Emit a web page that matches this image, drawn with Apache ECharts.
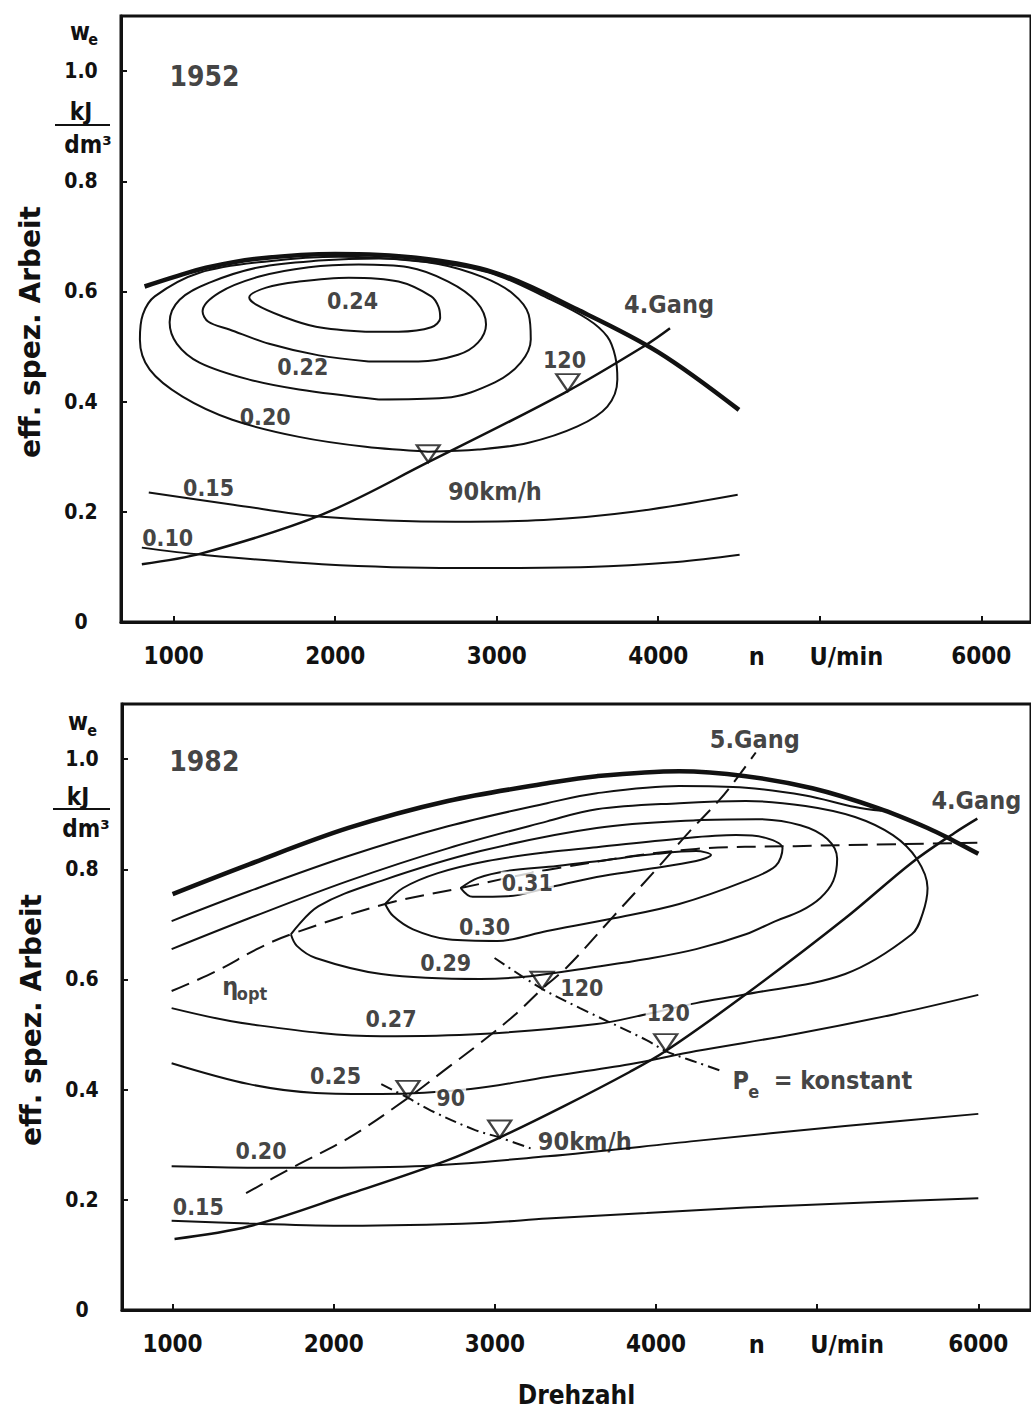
<!DOCTYPE html>
<html><head><meta charset="utf-8">
<script src="https://cdn.jsdelivr.net/npm/echarts@6/dist/echarts.min.js"></script>
<style>html,body{margin:0;padding:0;background:#fff}#c{width:1031px;height:1410px}</style>
</head><body><div id="c"></div>
<script>
// ---------- DATA (n in U/min, w_e in kJ/dm3) ----------
const xTicks = [1000, 2000, 3000, 4000, 5000, 6000];
const xTickLabels = [1000, 2000, 3000, 4000, 6000];
const yTicks = [0, 0.2, 0.4, 0.6, 0.8, 1.0];
const axisWords = ['n', 'U/min'];
const axisWordPos1952 = [4610, 5165];
const axisWordPos1982 = [4625, 5186];

// 1952
const fullLoad1952 = [[820,0.609],[1000,0.626],[1200,0.643],[1500,0.659],[2000,0.668],[2500,0.661],[3000,0.633],[3500,0.567],[4000,0.49],[4500,0.385]];
const be024_1952 = [[2188,0.527],[2392,0.527],[2595,0.535],[2650,0.552],[2640,0.572],[2595,0.591],[2392,0.618],[2084,0.625],[1776,0.618],[1573,0.607],[1468,0.589],[1511,0.576],[1671,0.555],[1881,0.536],[2188,0.527]];
const be023_1952 = [[2207,0.473],[2515,0.473],[2761,0.485],[2884,0.507],[2934,0.540],[2872,0.582],[2700,0.618],[2453,0.644],[2145,0.649],[1837,0.644],[1530,0.627],[1283,0.598],[1179,0.564],[1215,0.545],[1345,0.531],[1591,0.505],[1899,0.484],[2207,0.473]];
const be022_1952 = [[2269,0.404],[2681,0.407],[2989,0.435],[3149,0.471],[3211,0.513],[3198,0.558],[3100,0.596],[2915,0.626],[2638,0.650],[2269,0.660],[1899,0.656],[1530,0.644],[1222,0.616],[1037,0.585],[975,0.544],[1020,0.505],[1160,0.471],[1468,0.440],[1776,0.422],[2269,0.404]];
const be020_1952 = [[2576,0.309],[2884,0.313],[3192,0.325],[3500,0.355],[3685,0.391],[3747,0.440],[3734,0.482],[3685,0.518],[3562,0.550],[3315,0.588],[2946,0.635],[2515,0.655],[2022,0.663],[1591,0.655],[1160,0.634],[883,0.591],[809,0.558],[791,0.513],[852,0.458],[1055,0.409],[1363,0.367],[1776,0.336],[2188,0.318],[2576,0.309]];
const be015_1952 = [[846,0.235],[1369,0.213],[1918,0.191],[2743,0.182],[3291,0.185],[3845,0.200],[4492,0.231]];
const be010_1952 = [[803,0.135],[1179,0.122],[1918,0.105],[2743,0.098],[3568,0.100],[4116,0.109],[4504,0.122]];
const gear4_1952 = [[803,0.105],[1179,0.125],[1918,0.195],[2576,0.29],[3420,0.416],[3931,0.504],[4073,0.533]];
const speed1952 = [[2576,0.29],[3440,0.419]];
const labels1952 = [
  ['1952', 1191, 0.991, 'year'], ['0.24', 2108, 0.582, 'num'], ['0.22', 1800, 0.462, 'num'],
  ['0.20', 1567, 0.373, 'num'], ['0.15', 1216, 0.244, 'num'], ['0.10', 963, 0.153, 'num'],
  ['4.Gang', 4067, 0.576, 'txt'], ['120', 3420, 0.476, 'num'], ['90km/h', 2989, 0.236, 'txt']
];

// 1982
const fullLoad1982 = [[1000,0.755],[1475,0.809],[2091,0.875],[2708,0.924],[3324,0.956],[3632,0.969],[4144,0.978],[4557,0.969],[4970,0.947],[5377,0.911],[5685,0.875],[5852,0.851],[6000,0.828]];
const be031_1982 = [[2788,0.766],[2893,0.784],[3078,0.797],[3386,0.806],[3694,0.817],[4002,0.828],[4249,0.833],[4341,0.826],[4249,0.815],[3941,0.800],[3632,0.786],[3324,0.766],[3078,0.751],[2862,0.750],[2788,0.766]];
const be030_1982 = [[2319,0.737],[2430,0.766],[2646,0.793],[2954,0.815],[3324,0.831],[3632,0.840],[4126,0.855],[4496,0.862],[4680,0.857],[4785,0.838],[4742,0.806],[4557,0.779],[4144,0.737],[3737,0.711],[3324,0.688],[3016,0.670],[2708,0.673],[2492,0.691],[2369,0.715],[2319,0.737]];
const be029_1982 = [[1734,0.682],[1906,0.733],[2295,0.779],[2911,0.833],[3632,0.875],[4249,0.889],[4619,0.891],[4896,0.880],[5063,0.855],[5124,0.819],[5100,0.779],[5020,0.748],[4896,0.724],[4742,0.706],[4557,0.682],[4249,0.655],[3941,0.637],[3632,0.623],[3219,0.606],[2911,0.601],[2295,0.610],[1888,0.639],[1771,0.661],[1734,0.682]];
const be027_1982 = [[994,0.655],[1475,0.711],[2091,0.779],[2708,0.838],[3324,0.887],[3632,0.909],[4144,0.920],[4557,0.924],[4927,0.915],[5235,0.895],[5470,0.862],[5618,0.819],[5685,0.766],[5655,0.720],[5587,0.682],[5174,0.610],[4557,0.573],[4249,0.557],[3941,0.537],[3632,0.519],[2911,0.501],[2295,0.497],[1475,0.519],[994,0.548]];
const be025up_1982 = [[994,0.706],[1475,0.760],[2091,0.824],[2708,0.878],[3324,0.920],[3632,0.938],[4144,0.951],[4557,0.948],[4927,0.934],[5235,0.913],[5400,0.906]];
const be025lo_1982 = [[994,0.448],[1475,0.410],[1888,0.394],[2295,0.392],[2850,0.401],[3324,0.423],[3836,0.446],[4249,0.470],[4866,0.501],[5482,0.537],[6000,0.572]];
const be020_1982 = [[994,0.261],[1678,0.258],[2504,0.261],[3324,0.279],[4249,0.307],[5174,0.334],[6000,0.356]];
const be015_1982 = [[994,0.162],[1475,0.157],[2091,0.153],[2911,0.158],[3324,0.166],[3941,0.176],[4557,0.186],[5300,0.195],[6000,0.203]];
const etaOpt_1982 = [[994,0.579],[1271,0.615],[1536,0.657],[1734,0.682],[2319,0.737],[2788,0.766],[3386,0.802],[4249,0.837],[4866,0.842],[5994,0.848]];
const gear4_1982 = [[1012,0.129],[1475,0.152],[2091,0.21],[2708,0.272],[3030,0.313],[3429,0.37],[3836,0.432],[4060,0.47],[4557,0.573],[5174,0.711],[5587,0.812],[5852,0.866],[5994,0.892]];
const gear5_1982 = [[1456,0.212],[1740,0.258],[2091,0.312],[2461,0.385],[2708,0.440],[2911,0.485],[3121,0.535],[3293,0.583],[3450,0.623],[3737,0.715],[4002,0.800],[4206,0.868],[4391,0.925],[4514,0.970],[4619,1.012]];
const pe90_1982 = [[2295,0.410],[2461,0.385],[2603,0.362],[2874,0.327],[3030,0.313],[3244,0.291]];
const pe120_1982 = [[2998,0.639],[3293,0.583],[3528,0.548],[3941,0.49],[4060,0.47],[4249,0.45],[4415,0.433]];
const speed1982 = [[2461,0.385],[3293,0.583],[3030,0.313],[4060,0.47]];
const labels1982 = [
  ['1982', 1197, 0.996, 'year'], ['5.Gang', 4613, 1.035, 'txt'], ['4.Gang', 5988, 0.924, 'txt'],
  ['0.31', 3201, 0.775, 'mask'], ['0.30', 2936, 0.695, 'num'], ['0.29', 2695, 0.630, 'num'],
  ['0.27', 2356, 0.528, 'num'], ['0.25', 2011, 0.425, 'num'], ['0.20', 1549, 0.289, 'num'],
  ['0.15', 1160, 0.187, 'num'], ['90', 2726, 0.385, 'mask'], ['120', 3540, 0.584, 'num'],
  ['120', 4076, 0.539, 'mask'], ['90km/h', 3558, 0.305, 'txt'],
  ['η', 1358, 0.588, 'greek'], ['opt', 1493, 0.574, 'sub'],
  ['P', 4526, 0.417, 'txt'], ['e', 4606, 0.397, 'sub'], ['= konstant', 4730, 0.416, 'left']
];

// ---------- STYLE ----------
const C = '#111';
const FONT = "'DejaVu Sans Condensed','DejaVu Sans',sans-serif";
const W = 'bold';
const LSTY = {
  year: {fontFamily: FONT, fontWeight: W, fontSize: 28},
  num: {fontFamily: FONT, fontWeight: W, fontSize: 23},
  mask: {fontFamily: FONT, fontWeight: W, fontSize: 23, backgroundColor: '#fff', padding: [0, 1]},
  txt: {fontFamily: FONT, fontWeight: W, fontSize: 25},
  greek: {fontFamily: FONT, fontWeight: W, fontSize: 25},
  sub: {fontFamily: FONT, fontWeight: W, fontSize: 18},
  left: {fontFamily: FONT, fontWeight: W, fontSize: 25, align: 'left'}
};

function xAx(gi, min, max, wordPos, name) {
  const vals = xTickLabels.slice(0, 4).concat(wordPos, [6000]);
  return {
    gridIndex: gi, type: 'value', min: min, max: max,
    axisLine: {show: true, onZero: false, lineStyle: {color: C, width: 3}},
    axisTick: {show: true, inside: true, length: 6, lineStyle: {color: C, width: 2}, customValues: xTicks},
    splitLine: {show: false},
    axisLabel: {
      show: true, customValues: vals, margin: 22, color: C, fontFamily: FONT, fontWeight: W, fontSize: 24,
      formatter: function (v) {
        const i = wordPos.indexOf(v);
        return i >= 0 ? '{t|' + axisWords[i] + '}' : String(v);
      },
      rich: {t: {fontFamily: FONT, fontWeight: W, fontSize: 25, color: C}}
    },
    name: name || '', nameLocation: 'middle', nameGap: 72,
    nameTextStyle: {fontFamily: FONT, fontWeight: W, fontSize: 26, color: C}
  };
}
function yAx(gi) {
  return {
    gridIndex: gi, type: 'value', min: 0, max: 1.1,
    axisLine: {show: true, onZero: false, lineStyle: {color: C, width: 3}},
    axisTick: {show: true, inside: true, length: 6, lineStyle: {color: C, width: 2}, customValues: yTicks},
    splitLine: {show: false},
    axisLabel: {customValues: yTicks, formatter: v => v === 0 ? '0' : v.toFixed(1), align: 'center', margin: 40,
      fontFamily: FONT, fontWeight: W, fontSize: 21, color: C, padding: [8, 0, 0, 0]},
    name: 'eff. spez. Arbeit', nameLocation: 'middle', nameGap: 77, nameRotate: 90,
    nameTextStyle: {fontFamily: "'DejaVu Sans',sans-serif", fontWeight: W, fontSize: 28, color: C, padding: [0, 26, 0, 0]}
  };
}
function line(gi, data, width, dash, smooth) {
  return {type: 'line', xAxisIndex: gi, yAxisIndex: gi, data: data, smooth: smooth == null ? 0.35 : smooth,
    symbol: 'none', silent: true, z: 3,
    lineStyle: {color: C, width: width, type: dash || 'solid', cap: 'butt'}};
}
function tris(gi, data) {
  return {type: 'scatter', xAxisIndex: gi, yAxisIndex: gi, data: data, silent: true, z: 6,
    symbol: 'path://M0,0L20,0L10,15Z', symbolSize: [23, 17], symbolOffset: [0, -8.5],
    itemStyle: {color: 'rgba(0,0,0,0)', borderColor: C, borderWidth: 2.2}};
}
function labels(gi, arr) {
  return {type: 'scatter', xAxisIndex: gi, yAxisIndex: gi, silent: true, z: 20, symbolSize: 1,
    itemStyle: {color: 'rgba(0,0,0,0)'},
    data: arr.map(a => ({value: [a[1], a[2]],
      label: Object.assign({show: true, position: 'inside', formatter: a[0], color: C}, LSTY[a[3]])}))};
}

const DASH = [19, 9];
const DASHDOT = [12, 5, 2, 5];

const option = {
  animation: false,
  backgroundColor: '#fff',
  textStyle: {fontFamily: FONT, color: C},
  grid: [
    {left: 121, top: 16, width: 915, height: 606, show: true, borderColor: C, borderWidth: 3, backgroundColor: 'transparent'},
    {left: 122, top: 704, width: 915, height: 606, show: true, borderColor: C, borderWidth: 3, backgroundColor: 'transparent'}
  ],
  xAxis: [xAx(0, 674, 6308, axisWordPos1952, ''), xAx(1, 686, 6327, axisWordPos1982, 'Drehzahl')],
  yAxis: [yAx(0), yAx(1)],
  series: [
    line(0, fullLoad1952, 4.5),
    line(0, be024_1952, 2), line(0, be023_1952, 2), line(0, be022_1952, 2), line(0, be020_1952, 2),
    line(0, be015_1952, 2), line(0, be010_1952, 2),
    line(0, gear4_1952, 2.5),
    tris(0, speed1952),
    labels(0, labels1952),

    line(1, fullLoad1982, 4.5),
    line(1, be031_1982, 2), line(1, be030_1982, 2), line(1, be029_1982, 2), line(1, be027_1982, 2),
    line(1, be025up_1982, 2), line(1, be025lo_1982, 2), line(1, be020_1982, 2), line(1, be015_1982, 2),
    line(1, etaOpt_1982, 2, DASH),
    line(1, gear4_1982, 2.5),
    line(1, gear5_1982, 2, DASH),
    line(1, pe90_1982, 2, DASHDOT), line(1, pe120_1982, 2, DASHDOT),
    tris(1, speed1982),
    labels(1, labels1982)
  ],
  graphic: [
    {type: 'text', x: 80, y: 32, style: {text: 'w', fontFamily: FONT, fontWeight: W, fontSize: 24, fill: C, align: 'center', verticalAlign: 'middle'}},
    {type: 'text', x: 93, y: 39, style: {text: 'e', fontFamily: FONT, fontWeight: W, fontSize: 16, fill: C, align: 'center', verticalAlign: 'middle'}},
    {type: 'text', x: 81, y: 112, style: {text: 'kJ', fontFamily: FONT, fontWeight: W, fontSize: 24, fill: C, align: 'center', verticalAlign: 'middle'}},
    {type: 'line', shape: {x1: 55, y1: 125, x2: 110, y2: 125}, style: {stroke: C, lineWidth: 2}},
    {type: 'text', x: 88, y: 145, style: {text: 'dm³', fontFamily: FONT, fontWeight: W, fontSize: 24, fill: C, align: 'center', verticalAlign: 'middle'}},

    {type: 'text', x: 78, y: 722, style: {text: 'w', fontFamily: FONT, fontWeight: W, fontSize: 24, fill: C, align: 'center', verticalAlign: 'middle'}},
    {type: 'text', x: 92, y: 730, style: {text: 'e', fontFamily: FONT, fontWeight: W, fontSize: 16, fill: C, align: 'center', verticalAlign: 'middle'}},
    {type: 'text', x: 78, y: 797, style: {text: 'kJ', fontFamily: FONT, fontWeight: W, fontSize: 24, fill: C, align: 'center', verticalAlign: 'middle'}},
    {type: 'line', shape: {x1: 53, y1: 809, x2: 110, y2: 809}, style: {stroke: C, lineWidth: 2}},
    {type: 'text', x: 86, y: 829, style: {text: 'dm³', fontFamily: FONT, fontWeight: W, fontSize: 24, fill: C, align: 'center', verticalAlign: 'middle'}}
  ]
};

const chart = echarts.init(document.getElementById('c'), null, {renderer: 'svg'});
chart.setOption(option);
</script></body></html>
